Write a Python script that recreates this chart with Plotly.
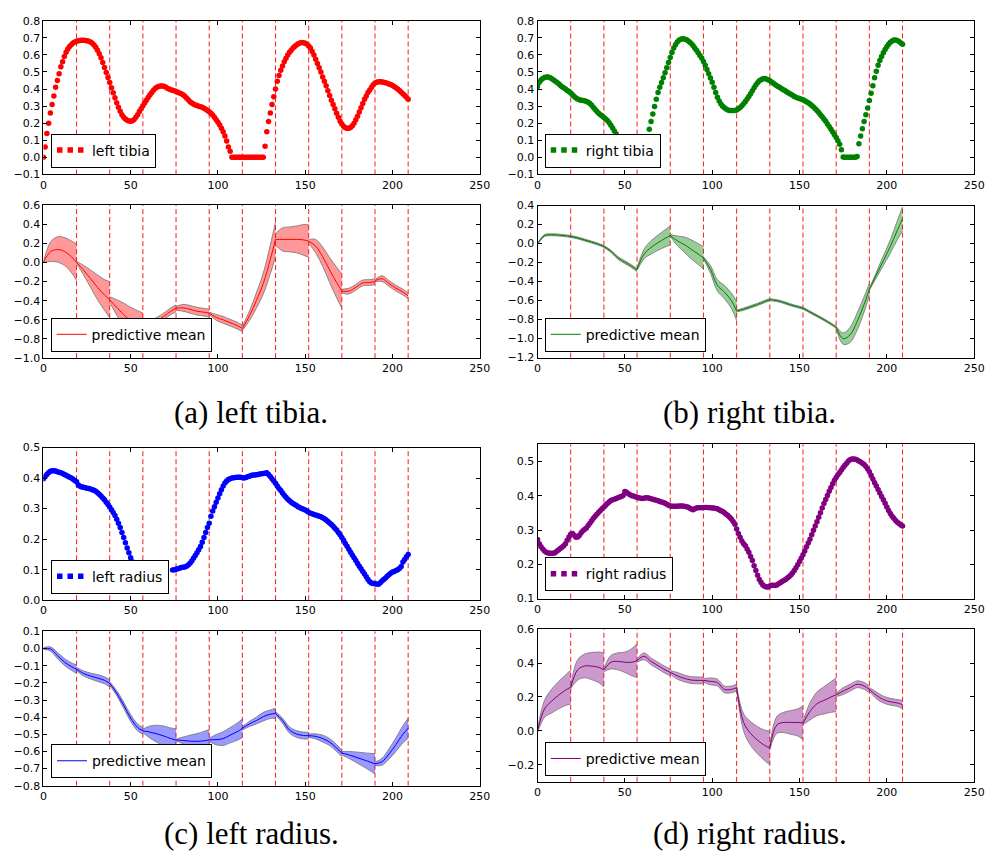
import plotly.graph_objects as go

W, H = 995, 861

# ---------------- data ----------------
X_DOTS = list(range(210))

LEFT_TIBIA = [
    0.0, 0.06, 0.14, 0.2, 0.26, 0.31, 0.36, 0.41, 0.45, 0.49,
    0.53, 0.56, 0.59, 0.615, 0.635, 0.65, 0.66, 0.67, 0.675, 0.68,
    0.683, 0.685, 0.686, 0.686, 0.685, 0.683, 0.68, 0.675, 0.668, 0.658,
    0.645, 0.628, 0.607, 0.583, 0.556, 0.527, 0.497, 0.467, 0.438, 0.408,
    0.378, 0.349, 0.32, 0.294, 0.27, 0.25, 0.235, 0.224, 0.217, 0.213,
    0.212, 0.215, 0.222, 0.235, 0.25, 0.268, 0.285, 0.302, 0.318, 0.334,
    0.35, 0.365, 0.379, 0.392, 0.403, 0.41, 0.415, 0.418, 0.418, 0.416,
    0.412, 0.405, 0.4, 0.396, 0.393, 0.39, 0.386, 0.382, 0.377, 0.372,
    0.366, 0.358, 0.348, 0.337, 0.326, 0.318, 0.312, 0.307, 0.303, 0.3,
    0.297, 0.293, 0.288, 0.282, 0.275, 0.267, 0.258, 0.248, 0.235, 0.22,
    0.205, 0.19, 0.17, 0.15, 0.125, 0.095, 0.06, 0.035, 0.0, 0.0,
    0.0, 0.0, 0.0, 0.0, 0.0, 0.0, 0.0, 0.0, 0.0, 0.0,
    0.0, 0.0, 0.0, 0.0, 0.0, 0.0, 0.0, 0.065, 0.15, 0.21,
    0.26, 0.31, 0.355, 0.4, 0.445, 0.48, 0.51, 0.535, 0.56, 0.58,
    0.6, 0.615, 0.628, 0.64, 0.65, 0.658, 0.665, 0.67, 0.672, 0.671,
    0.668, 0.662, 0.652, 0.64, 0.62, 0.6, 0.575, 0.55, 0.525, 0.5,
    0.47, 0.445, 0.42, 0.39, 0.362, 0.335, 0.31, 0.285, 0.258, 0.235,
    0.212, 0.195, 0.182, 0.174, 0.17, 0.17, 0.175, 0.185, 0.2, 0.22,
    0.24, 0.265, 0.29, 0.315, 0.34, 0.36, 0.38, 0.395, 0.41, 0.425,
    0.435, 0.44, 0.443, 0.443, 0.442, 0.44, 0.437, 0.434, 0.43, 0.426,
    0.421, 0.415, 0.408, 0.4, 0.391, 0.382, 0.372, 0.362, 0.352, 0.34,
]

RIGHT_TIBIA = [
    0.415, 0.44, 0.453, 0.462, 0.468, 0.471, 0.47, 0.467, 0.462, 0.455,
    0.447, 0.44, 0.432, 0.422, 0.414, 0.407, 0.4, 0.392, 0.385, 0.377,
    0.367, 0.357, 0.348, 0.342, 0.338, 0.335, 0.333, 0.331, 0.327, 0.322,
    0.316, 0.305, 0.292, 0.28, 0.268, 0.258, 0.25, 0.242, 0.233, 0.225,
    0.216, 0.203, 0.188, 0.172, 0.155, 0.138, 0.12, 0.1, 0.088, None,
    None, None, None, None, None, None, None, None, None, None,
    None, None, None, 0.12, 0.165, 0.21, 0.254, 0.298, 0.34, 0.38,
    0.41, 0.438, 0.466, 0.495, 0.525, 0.555, 0.585, 0.614, 0.64, 0.66,
    0.676, 0.686, 0.692, 0.694, 0.693, 0.69, 0.684, 0.676, 0.667, 0.655,
    0.641, 0.627, 0.612, 0.597, 0.582, 0.562, 0.54, 0.515, 0.49, 0.465,
    0.44, 0.41, 0.38, 0.352, 0.33, 0.313, 0.3, 0.29, 0.283, 0.278,
    0.275, 0.274, 0.274, 0.275, 0.278, 0.284, 0.292, 0.302, 0.314, 0.327,
    0.342, 0.356, 0.373, 0.39, 0.408, 0.424, 0.437, 0.448, 0.455, 0.46,
    0.462, 0.459, 0.454, 0.448, 0.441, 0.434, 0.427, 0.42, 0.414, 0.407,
    0.401, 0.394, 0.388, 0.382, 0.376, 0.369, 0.363, 0.357, 0.352, 0.347,
    0.344, 0.34, 0.337, 0.332, 0.326, 0.32, 0.312, 0.304, 0.295, 0.285,
    0.274, 0.262, 0.25, 0.238, 0.225, 0.212, 0.196, 0.18, 0.164, 0.148,
    0.132, 0.116, 0.097, 0.077, 0.045, 0.002, 0.0, 0.0, 0.0, 0.0,
    0.0, 0.0, 0.0, 0.005, 0.08, 0.125, 0.168, 0.21, 0.25, 0.289,
    0.333, 0.376, 0.42, 0.466, 0.505, 0.54, 0.568, 0.59, 0.612, 0.632,
    0.648, 0.662, 0.674, 0.682, 0.687, 0.688, 0.685, 0.678, 0.67, 0.662,
]

LEFT_RADIUS = [
    0.398, 0.405, 0.412, 0.418, 0.422, 0.424, 0.424, 0.423, 0.421, 0.419,
    0.417, 0.415, 0.412, 0.409, 0.406, 0.403, 0.4, 0.396, 0.392, 0.388,
    0.377, 0.373, 0.371, 0.37, 0.368, 0.367, 0.366, 0.364, 0.362, 0.36,
    0.357, 0.352, 0.347, 0.341, 0.335, 0.329, 0.321, 0.313, 0.305, 0.296,
    0.287, 0.277, 0.265, 0.252, 0.238, 0.222, 0.205, 0.188, 0.171, 0.155,
    0.139, 0.126, 0.114, 0.102, None, None, None, None, None, None,
    None, None, None, None, None, None, None, None, None, None,
    None, None, None, None, 0.099, 0.1, 0.101, 0.103, 0.105, 0.107,
    0.108, 0.109, 0.111, 0.115, 0.121, 0.128, 0.137, 0.146, 0.155, 0.165,
    0.176, 0.19, 0.205, 0.222, 0.238, 0.252, 0.275, 0.292, 0.306, 0.321,
    0.335, 0.349, 0.362, 0.374, 0.384, 0.39, 0.395, 0.398, 0.4, 0.401,
    0.402, 0.403, 0.403, 0.403, 0.401, 0.4, 0.402, 0.404, 0.406, 0.408,
    0.41, 0.41, 0.411, 0.412, 0.413, 0.414, 0.415, 0.416, 0.417, 0.412,
    0.405, 0.398, 0.39, 0.383, 0.374, 0.366, 0.359, 0.351, 0.344, 0.337,
    0.331, 0.326, 0.321, 0.317, 0.313, 0.31, 0.306, 0.303, 0.3, 0.298,
    0.295, 0.292, 0.288, 0.285, 0.283, 0.281, 0.279, 0.277, 0.275, 0.273,
    0.27, 0.267, 0.263, 0.258, 0.253, 0.248, 0.242, 0.236, 0.23, 0.222,
    0.214, 0.205, 0.196, 0.186, 0.177, 0.167, 0.157, 0.148, 0.139, 0.13,
    0.12, 0.111, 0.103, 0.094, 0.086, 0.077, 0.068, 0.06, 0.056, 0.055,
    0.054, 0.053, 0.052, 0.057, 0.063, 0.068, 0.073, 0.078, 0.083, 0.088,
    0.092, 0.094, 0.097, 0.1, 0.104, 0.11, 0.125, 0.133, 0.142, 0.15,
]

RIGHT_RADIUS = [
    0.272, 0.26, 0.251, 0.245, 0.239, 0.235, 0.233, 0.232, 0.232, 0.232,
    0.234, 0.238, 0.242, 0.246, 0.25, 0.254, 0.26, 0.27, 0.28, 0.288,
    0.29, 0.285, 0.279, 0.28, 0.285, 0.292, 0.298, 0.302, 0.306, 0.313,
    0.32, 0.327, 0.334, 0.34, 0.346, 0.352, 0.357, 0.362, 0.367, 0.372,
    0.377, 0.382, 0.386, 0.388, 0.39, 0.392, 0.394, 0.396, 0.398, 0.401,
    0.412, 0.41, 0.406, 0.403, 0.4, 0.399, 0.397, 0.395, 0.394, 0.393,
    0.392, 0.393, 0.394, 0.394, 0.393, 0.391, 0.39, 0.388, 0.387, 0.385,
    0.383, 0.382, 0.38, 0.378, 0.375, 0.372, 0.37, 0.369, 0.369, 0.369,
    0.369, 0.37, 0.37, 0.37, 0.369, 0.368, 0.367, 0.364, 0.361, 0.359,
    0.362, 0.364, 0.365, 0.365, 0.365, 0.365, 0.366, 0.366, 0.365, 0.365,
    0.364, 0.364, 0.363, 0.362, 0.359, 0.356, 0.354, 0.35, 0.346, 0.342,
    0.337, 0.332, 0.325, 0.317, 0.303, 0.29, 0.279, 0.268, 0.26, 0.254,
    0.245, 0.235, 0.223, 0.211, 0.196, 0.182, 0.168, 0.156, 0.147, 0.14,
    0.136, 0.134, 0.134, 0.137, 0.139, 0.139, 0.138, 0.14, 0.143, 0.146,
    0.15, 0.153, 0.156, 0.16, 0.164, 0.169, 0.175, 0.182, 0.19, 0.199,
    0.208, 0.218, 0.228, 0.239, 0.251, 0.262, 0.273, 0.286, 0.299, 0.312,
    0.324, 0.337, 0.35, 0.364, 0.377, 0.389, 0.401, 0.413, 0.424, 0.435,
    0.445, 0.453, 0.461, 0.468, 0.475, 0.482, 0.489, 0.495, 0.501, 0.505,
    0.507, 0.507, 0.506, 0.504, 0.501, 0.498, 0.495, 0.491, 0.485, 0.478,
    0.47, 0.46, 0.449, 0.438, 0.428, 0.418, 0.408, 0.398, 0.388, 0.378,
    0.367, 0.357, 0.348, 0.34, 0.334, 0.328, 0.323, 0.319, 0.315, 0.312,
]

# segments of the predictive mean (GP restarted at every boundary)
SEG_STARTS = [0, 19, 38, 57, 76, 95, 114, 133, 152, 171, 190]
SEG_OFFSETS = [0, 4, 8, 12, 16, 19]
BOUNDARIES = [19, 38, 57, 76, 95, 114, 133, 152, 171, 190, 209]

LT_MEAN = [
    [0.0, 0.11, 0.135, 0.115, 0.06, 0.0],
    [0.0, -0.08, -0.17, -0.26, -0.34, -0.39],
    [-0.39, -0.47, -0.545, -0.61, -0.66, -0.69],
    [-0.67, -0.645, -0.61, -0.565, -0.51, -0.48],
    [-0.48, -0.475, -0.49, -0.51, -0.52, -0.53],
    [-0.53, -0.575, -0.6, -0.63, -0.66, -0.69],
    [-0.69, -0.56, -0.4, -0.22, 0.03, 0.24],
    [0.24, 0.24, 0.24, 0.24, 0.235, 0.222],
    [0.22, 0.17, 0.06, -0.08, -0.21, -0.3],
    [-0.3, -0.3, -0.26, -0.215, -0.21, -0.2],
    [-0.19, -0.17, -0.22, -0.27, -0.31, -0.35],
]
LT_SD = [
    [0.0, 0.1, 0.132, 0.145, 0.165, 0.19],
    [0.01, 0.05, 0.09, 0.13, 0.16, 0.19],
    [0.03, 0.08, 0.12, 0.14, 0.155, 0.16],
    [0.01, 0.03, 0.035, 0.035, 0.035, 0.035],
    [0.02, 0.035, 0.04, 0.04, 0.04, 0.04],
    [0.01, 0.03, 0.035, 0.035, 0.035, 0.035],
    [0.02, 0.05, 0.08, 0.11, 0.15, 0.18],
    [0.06, 0.12, 0.13, 0.14, 0.16, 0.17],
    [0.02, 0.07, 0.1, 0.13, 0.16, 0.18],
    [0.02, 0.03, 0.03, 0.03, 0.03, 0.03],
    [0.01, 0.03, 0.03, 0.03, 0.03, 0.03],
]

RT_MEAN = [
    [0.0, 0.085, 0.093, 0.09, 0.083, 0.075],
    [0.075, 0.06, 0.038, 0.016, -0.008, -0.03],
    [-0.03, -0.08, -0.15, -0.195, -0.24, -0.28],
    [-0.27, -0.11, -0.04, 0.01, 0.055, 0.085],
    [0.085, 0.03, -0.01, -0.06, -0.11, -0.15],
    [-0.15, -0.27, -0.44, -0.51, -0.6, -0.71],
    [-0.71, -0.69, -0.665, -0.64, -0.61, -0.59],
    [-0.59, -0.6, -0.62, -0.645, -0.665, -0.68],
    [-0.68, -0.72, -0.76, -0.8, -0.845, -0.88],
    [-0.88, -1.0, -0.96, -0.82, -0.64, -0.48],
    [-0.48, -0.33, -0.18, -0.03, 0.14, 0.26],
]
RT_SD = [
    [0.005, 0.01, 0.01, 0.01, 0.01, 0.01],
    [0.01, 0.01, 0.01, 0.01, 0.01, 0.01],
    [0.01, 0.012, 0.015, 0.015, 0.015, 0.015],
    [0.01, 0.05, 0.07, 0.08, 0.09, 0.1],
    [0.01, 0.05, 0.08, 0.1, 0.11, 0.12],
    [0.01, 0.04, 0.06, 0.07, 0.08, 0.1],
    [0.01, 0.012, 0.012, 0.012, 0.012, 0.012],
    [0.01, 0.01, 0.01, 0.01, 0.01, 0.01],
    [0.01, 0.01, 0.01, 0.01, 0.01, 0.01],
    [0.01, 0.06, 0.08, 0.09, 0.08, 0.06],
    [0.01, 0.03, 0.05, 0.07, 0.1, 0.125],
]

LR_MEAN = [
    [0.0, -0.002, -0.04, -0.078, -0.105, -0.12],
    [-0.12, -0.145, -0.16, -0.172, -0.185, -0.203],
    [-0.203, -0.26, -0.33, -0.405, -0.46, -0.48],
    [-0.48, -0.487, -0.497, -0.51, -0.525, -0.533],
    [-0.533, -0.536, -0.54, -0.541, -0.538, -0.532],
    [-0.532, -0.531, -0.525, -0.505, -0.485, -0.465],
    [-0.465, -0.44, -0.42, -0.397, -0.383, -0.378],
    [-0.378, -0.42, -0.475, -0.498, -0.507, -0.508],
    [-0.508, -0.512, -0.525, -0.545, -0.58, -0.61],
    [-0.61, -0.62, -0.633, -0.647, -0.661, -0.672],
    [-0.672, -0.66, -0.615, -0.56, -0.5, -0.465],
]
LR_SD = [
    [0.005, 0.012, 0.018, 0.02, 0.022, 0.025],
    [0.01, 0.015, 0.017, 0.02, 0.02, 0.022],
    [0.01, 0.015, 0.018, 0.02, 0.02, 0.02],
    [0.01, 0.035, 0.05, 0.058, 0.062, 0.065],
    [0.005, 0.02, 0.035, 0.045, 0.055, 0.06],
    [0.01, 0.03, 0.04, 0.045, 0.05, 0.055],
    [0.01, 0.015, 0.02, 0.025, 0.025, 0.03],
    [0.01, 0.015, 0.018, 0.02, 0.02, 0.02],
    [0.01, 0.015, 0.02, 0.02, 0.02, 0.02],
    [0.01, 0.02, 0.03, 0.04, 0.05, 0.06],
    [0.01, 0.02, 0.03, 0.04, 0.05, 0.058],
]

RR_MEAN = [
    [0.0, 0.13, 0.175, 0.21, 0.24, 0.258],
    [0.258, 0.36, 0.383, 0.382, 0.375, 0.36],
    [0.36, 0.405, 0.41, 0.405, 0.405, 0.415],
    [0.415, 0.44, 0.41, 0.385, 0.36, 0.345],
    [0.345, 0.325, 0.31, 0.3, 0.298, 0.298],
    [0.298, 0.292, 0.285, 0.245, 0.245, 0.255],
    [0.255, 0.05, -0.015, -0.055, -0.085, -0.1],
    [-0.1, 0.035, 0.05, 0.05, 0.05, 0.047],
    [0.047, 0.115, 0.16, 0.18, 0.2, 0.213],
    [0.213, 0.235, 0.255, 0.275, 0.265, 0.245],
    [0.245, 0.21, 0.185, 0.172, 0.165, 0.155],
]
RR_SD = [
    [0.01, 0.05, 0.07, 0.08, 0.09, 0.1],
    [0.01, 0.06, 0.07, 0.08, 0.09, 0.1],
    [0.01, 0.04, 0.05, 0.06, 0.08, 0.1],
    [0.01, 0.02, 0.02, 0.02, 0.02, 0.02],
    [0.01, 0.02, 0.02, 0.02, 0.02, 0.02],
    [0.01, 0.02, 0.02, 0.02, 0.02, 0.02],
    [0.01, 0.05, 0.07, 0.08, 0.09, 0.1],
    [0.01, 0.05, 0.06, 0.07, 0.08, 0.1],
    [0.01, 0.05, 0.07, 0.08, 0.09, 0.1],
    [0.01, 0.02, 0.02, 0.02, 0.02, 0.02],
    [0.01, 0.02, 0.02, 0.02, 0.02, 0.025],
]

SERIES_NAMES = ["left tibia", "right tibia", "left radius", "right radius"]
CAPTIONS = ["(a) left tibia.", "(b) right tibia.", "(c) left radius.", "(d) right radius."]
MEAN_LABEL = "predictive mean"

# ---------------- styling / layout ----------------
COLORS = ["#ff0000", "#008000", "#0000ff", "#800080"]
BANDS = ["rgba(255,0,0,0.4)", "rgba(0,128,0,0.4)", "rgba(0,0,255,0.4)", "rgba(128,0,128,0.4)"]
EDGE = "rgba(120,120,120,0.85)"
DOT_SIZE = 5.5

# pixel boxes of each axis: (left, right, top, bottom)
AX_BOX = {
    1: (40, 483, 15, 171), 2: (40, 483, 202, 357.5),
    3: (541.7, 985, 15, 171), 4: (541.7, 985, 202.7, 357),
    5: (40, 483, 448.3, 603.3), 6: (40, 483, 635, 791.7),
    7: (541.7, 985, 445, 601.7), 8: (541.7, 985, 632.7, 787.7),
}
# y range and tick list
Y_AX = {
    1: ([-0.1, 0.8], -0.1, 0.8, 0.1), 2: ([-1.0, 0.6], -1.0, 0.6, 0.2),
    3: ([-0.1, 0.8], -0.1, 0.8, 0.1), 4: ([-1.2, 0.4], -1.2, 0.4, 0.2),
    5: ([0.0, 0.5], 0.0, 0.5, 0.1), 6: ([-0.8, 0.1], -0.8, 0.1, 0.1),
    7: ([0.1, 0.55], 0.1, 0.5, 0.1), 8: ([-0.3, 0.6], -0.2, 0.6, 0.2),
}
# legend box bottom-left (px)
LEG_POS = {
    1: (47.7, 164), 2: (47.3, 351), 3: (549, 164), 4: (549, 351),
    5: (47.7, 596.7), 6: (47.7, 784), 7: (549, 594), 8: (549, 781.7),
}
CAP_POS = [(251, 413), (757, 413), (251, 840), (757, 840)]

TICK_FONT = dict(family="DejaVu Sans", size=11, color="black")


def fmt(v):
    return f"{v:.1f}".replace("-", "\u2212")


fig = go.Figure()

dots_all = [LEFT_TIBIA, RIGHT_TIBIA, LEFT_RADIUS, RIGHT_RADIUS]
means_all = [LT_MEAN, RT_MEAN, LR_MEAN, RR_MEAN]
sds_all = [LT_SD, RT_SD, LR_SD, RR_SD]

for s in range(4):
    top = 2 * s + 1
    bot = 2 * s + 2
    xt = "x" if top == 1 else f"x{top}"
    yt = "y" if top == 1 else f"y{top}"
    xb, yb = f"x{bot}", f"y{bot}"
    leg_t = "legend" if top == 1 else f"legend{top}"
    leg_b = f"legend{bot}"

    fig.add_trace(go.Scatter(
        x=X_DOTS, y=dots_all[s], mode="markers", name=SERIES_NAMES[s],
        marker=dict(color=COLORS[s], size=DOT_SIZE, line=dict(width=0)),
        xaxis=xt, yaxis=yt, showlegend=False))
    # legend proxy: three dots like matplotlib's scatterpoints=3
    fig.add_trace(go.Scatter(
        x=[None], y=[None], mode="lines", name=SERIES_NAMES[s],
        line=dict(color=COLORS[s], width=DOT_SIZE, dash="5.5px,5px"),
        xaxis=xt, yaxis=yt, legend=leg_t, showlegend=True, hoverinfo="skip"))

    # bands
    for k, st in enumerate(SEG_STARTS):
        xs = [st + o for o in SEG_OFFSETS]
        m = means_all[s][k]
        sd = sds_all[s][k]
        lo = [a - b for a, b in zip(m, sd)]
        hi = [a + b for a, b in zip(m, sd)]
        fig.add_trace(go.Scatter(
            x=xs, y=lo, mode="lines", line=dict(color=EDGE, width=1, shape="spline"),
            xaxis=xb, yaxis=yb, showlegend=False, hoverinfo="skip"))
        fig.add_trace(go.Scatter(
            x=xs, y=hi, mode="lines", line=dict(color=EDGE, width=1, shape="spline"),
            fill="tonexty", fillcolor=BANDS[s],
            xaxis=xb, yaxis=yb, showlegend=False, hoverinfo="skip"))
    for k, st in enumerate(SEG_STARTS):
        xs = [st + o for o in SEG_OFFSETS]
        fig.add_trace(go.Scatter(
            x=xs, y=means_all[s][k], mode="lines", name=MEAN_LABEL,
            line=dict(color=COLORS[s], width=1, shape="spline"),
            xaxis=xb, yaxis=yb, legend=leg_b, showlegend=(k == 0)))

layout = dict(
    width=W, height=H, margin=dict(l=0, r=0, t=0, b=0),
    paper_bgcolor="white", plot_bgcolor="white",
    font=dict(family="DejaVu Sans", color="black"),
    showlegend=True, shapes=[], annotations=[],
)

for i in range(1, 9):
    l, r, t, b = AX_BOX[i]
    xa = "xaxis" if i == 1 else f"xaxis{i}"
    ya = "yaxis" if i == 1 else f"yaxis{i}"
    xref = "x" if i == 1 else f"x{i}"
    yref = "y" if i == 1 else f"y{i}"
    common = dict(showline=True, linecolor="black", linewidth=1, mirror="ticks",
                  ticks="inside", ticklen=4, tickwidth=1, tickcolor="black",
                  showgrid=False, zeroline=False, tickfont=TICK_FONT)
    xt_vals = [0, 50, 100, 150, 200, 250]
    layout[xa] = dict(domain=[l / W, r / W], anchor=yref, range=[0, 250],
                      tickvals=xt_vals, ticktext=[str(v) for v in xt_vals], **common)
    rng, t0, t1, dt = Y_AX[i]
    n = int(round((t1 - t0) / dt))
    yt_vals = [round(t0 + j * dt, 3) for j in range(n + 1)]
    layout[ya] = dict(domain=[1 - b / H, 1 - t / H], anchor=xref, range=rng,
                      tickvals=yt_vals, ticktext=[fmt(v) for v in yt_vals], **common)
    lx, ly = LEG_POS[i]
    leg = "legend" if i == 1 else f"legend{i}"
    layout[leg] = dict(x=lx / W, y=1 - ly / H, xanchor="left", yanchor="bottom",
                       bgcolor="white", bordercolor="black", borderwidth=1,
                       font=dict(family="DejaVu Sans", size=14, color="black"))
    for bx in BOUNDARIES:
        layout["shapes"].append(dict(
            type="line", xref=xref, yref=f"{yref} domain", x0=bx, x1=bx, y0=0, y1=1,
            line=dict(color="rgba(255,0,0,0.9)", width=1, dash="5px,3px"), layer="below"))

for (cx, cy), txt in zip(CAP_POS, CAPTIONS):
    layout["annotations"].append(dict(
        text=txt, x=cx / W, y=1 - cy / H, xref="paper", yref="paper",
        xanchor="center", yanchor="middle", showarrow=False,
        font=dict(family="Liberation Serif", size=31, color="black")))

fig.update_layout(**layout)
fig.write_html("out.html", config={"displayModeBar": False},
               post_script="document.body.style.margin='0';document.body.style.overflow='hidden';")
